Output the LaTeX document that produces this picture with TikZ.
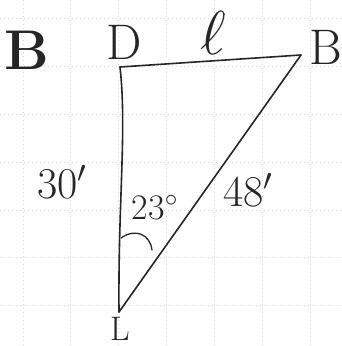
\documentclass[tikz,border=0pt]{standalone}
\usepackage{fix-cm}
\usepackage{fontspec}
\usetikzlibrary{calc}
\begin{document}
\begin{tikzpicture}[x=1pt,y=-1pt,
  edge/.style={line width=1.6pt,draw=black!85,line cap=round,line join=round},
  lbl/.style={inner sep=0pt,text=black!85},
  gridline/.style={draw=black!15,line width=0.4pt,dash pattern=on 1pt off 3pt}]
\useasboundingbox[fill=white] (0,0) rectangle (342,346);
% faint graph-paper grid
\foreach \gx in {23,70,118,166,214,262,310}{\draw[gridline] (\gx,0) -- (\gx,346);}
\foreach \gy in {18,66,114,162,210,257,305}{\draw[gridline] (0,\gy) -- (342,\gy);}
% vertices
\coordinate (D) at (120,67);
\coordinate (B) at (301,55);
\coordinate (L) at (119,312);
% sides
\draw[edge] (D) -- (B);
\draw[edge] (D) .. controls (127,130) and (118,200) .. (L);
\draw[edge] (B) -- (L);
% angle mark
\coordinate (a1) at (121,238);
\coordinate (a2) at (152,250);
\draw[edge,line width=1.3pt] (a1) .. controls (135,228) and (150,234) .. (a2);
% labels
\node[lbl,font=\fontsize{56}{56}\selectfont\bfseries] (bx) at (27,50) {B};
\node[lbl,font=\fontsize{50}{50}\selectfont] (dl) at (124,42) {D};
\node[lbl,font=\fontsize{62}{62}\selectfont] (el) at (213,33) {$\ell$};
\fill[black!80] (224,14) circle (1pt);
\node[lbl,font=\fontsize{50}{50}\selectfont] (bl) at (326,47) {B};
\node[lbl,font=\fontsize{44}{44}\selectfont] (t30) at (62,182) {30$'$};
\node[lbl,font=\fontsize{36}{36}\selectfont] (t23) at (155,208) {23$^\circ$};
\node[lbl,font=\fontsize{44}{44}\selectfont] (t48) at (248,190) {48$'$};
\node[lbl,font=\fontsize{34}{34}\selectfont] (ll) at (120,329) {L};
\end{tikzpicture}
\end{document}
